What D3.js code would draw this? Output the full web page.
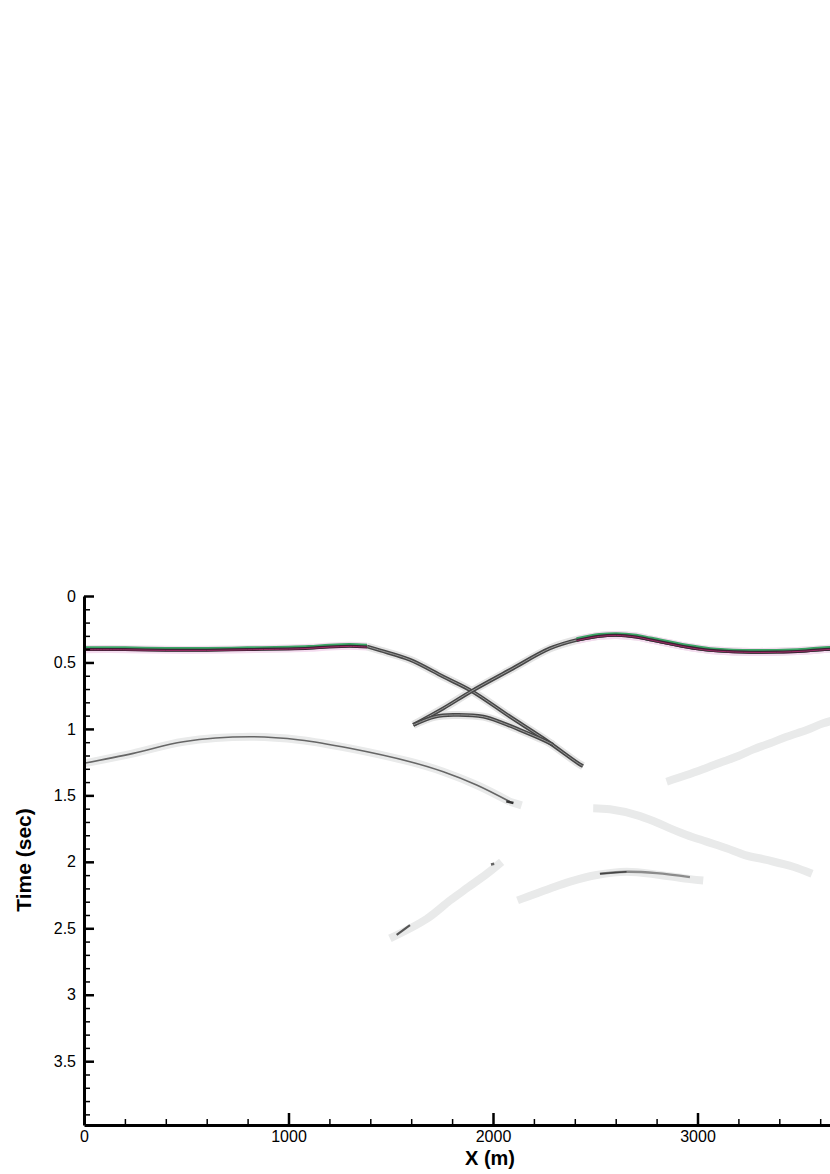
<!DOCTYPE html>
<html>
<head>
<meta charset="utf-8">
<script src="https://cdn.jsdelivr.net/npm/d3@7"></script>
<style>
  html, body { margin: 0; padding: 0; background: #fff; }
  svg { display: block; }
  text { font-family: "Liberation Sans", Arial, sans-serif; }
</style>
</head>
<body>
<svg id="chart" width="830" height="1174"></svg>
<script>
// ---------- data (x in m, time in sec) ----------
const topLeftX = [0, 200, 400, 600, 800, 1000, 1100, 1200, 1300, 1384];
const topLeftT = [0.40, 0.40, 0.405, 0.405, 0.40, 0.395, 0.39, 0.38, 0.375, 0.38];

const descX = [1384, 1450, 1594, 1757, 1896, 2083, 2246, 2417, 2440];
const descT = [0.38, 0.41, 0.48, 0.607, 0.715, 0.908, 1.071, 1.259, 1.28];

const ascX = [1610, 1757, 1896, 2083, 2279, 2409, 2520, 2605, 2700, 2768, 2947, 3061, 3224, 3387, 3530, 3648, 3750];
const ascT = [0.97, 0.845, 0.715, 0.557, 0.394, 0.331, 0.30, 0.293, 0.305, 0.326, 0.381, 0.406, 0.419, 0.419, 0.41, 0.397, 0.395];

const arcX = [1610, 1717, 1806, 1953, 2051, 2132, 2246, 2295];
const arcT = [0.97, 0.908, 0.895, 0.908, 0.958, 1.008, 1.083, 1.12];

const lowX = [0, 241, 486, 812, 1056, 1300, 1594, 1757, 1920, 2083];
const lowT = [1.259, 1.184, 1.096, 1.059, 1.083, 1.146, 1.247, 1.322, 1.422, 1.548];

const blobX = [2065, 2100];
const blobT = [1.545, 1.558];

const fadeAX = [2083, 2140];
const fadeAT = [1.548, 1.575];
const fadeBX = [2490, 2572, 2702, 2792, 2866, 2947, 3044, 3142, 3232, 3338, 3468, 3560];
const fadeBT = [1.597, 1.605, 1.648, 1.698, 1.748, 1.798, 1.848, 1.898, 1.949, 1.986, 2.037, 2.09];

const riseX = [2849, 2947, 3037, 3110, 3200, 3273, 3355, 3436, 3534, 3615, 3700];
const riseT = [1.397, 1.347, 1.297, 1.255, 1.204, 1.154, 1.108, 1.059, 1.008, 0.958, 0.92];

const leftRiseX = [1496, 1675, 1790, 1880, 1970, 2042];
const leftRiseT = [2.576, 2.43, 2.29, 2.19, 2.09, 2.0];
const leftDashX = [1529, 1594];
const leftDashT = [2.55, 2.476];
const dotX = [1990, 2006];
const dotT = [2.02, 2.015];

const deepX = [2120, 2279, 2377, 2507, 2653, 2817, 2963, 3028];
const deepT = [2.29, 2.2, 2.149, 2.099, 2.074, 2.099, 2.13, 2.14];
const deepCoreX = [2523, 2653, 2800, 2963];
const deepCoreT = [2.09, 2.075, 2.085, 2.115];

const yMajor = [0, 0.5, 1, 1.5, 2, 2.5, 3, 3.5];
const yMinor = [0.1,0.2,0.3,0.4,0.6,0.7,0.8,0.9,1.1,1.2,1.3,1.4,1.6,1.7,1.8,1.9,2.1,2.2,2.3,2.4,2.6,2.7,2.8,2.9,3.1,3.2,3.3,3.4,3.6,3.7,3.8,3.9];
const xMajor = [0, 1000, 2000, 3000];
const xMinor = [200,400,600,800,1200,1400,1600,1800,2200,2400,2600,2800,3200,3400,3600,3800];

// ---------- setup ----------
const svg = d3.select("#chart");
const x = d3.scaleLinear().domain([0, 4000]).range([84, 902]);
const y = d3.scaleLinear().domain([0, 3.98]).range([596, 1125]);

const zip = (xs, ts) => xs.map((v, i) => [v, ts[i]]);
const line = d3.line().x(d => x(d[0])).y(d => y(d[1])).curve(d3.curveCatmullRom.alpha(0.5));

const plot = svg.append("g");
function draw(pts, color, width, extra) {
  const p = plot.append("path").datum(pts)
    .attr("d", line).attr("fill", "none")
    .attr("stroke", color).attr("stroke-width", width)
    .attr("stroke-linecap", "butt").attr("stroke-linejoin", "round");
  if (extra) extra(p);
  return p;
}

const topLeft = zip(topLeftX, topLeftT);
const desc = zip(descX, descT);
const asc = zip(ascX, ascT);
const arc = zip(arcX, arcT);
const low = zip(lowX, lowT);
const ascCrest = asc.filter(d => d[0] >= 2400);

// light halos
[low, zip(fadeAX, fadeAT), zip(fadeBX, fadeBT), zip(riseX, riseT), zip(leftRiseX, leftRiseT), zip(deepX, deepT)]
  .forEach(p => draw(p, "#e9eaea", 8));
[desc, asc, arc].forEach(p => draw(p, "#e4e4e4", 8));
[topLeft, ascCrest].forEach(p => draw(p, "#f4dcef", 8));

// wavefront curves (grey double lines)
[desc, asc, arc].forEach(p => {
  draw(p, "#474747", 3.8);
  draw(p, "#9a9a9a", 1);
});
// flat parts with coloured traces
[topLeft, ascCrest].forEach(p => {
  draw(p, "#3aa565", 4.4, s => s.attr("transform", "translate(0,-0.6)"));
  draw(p, "#3a2233", 3, s => s.attr("transform", "translate(0,0.4)"));
  draw(p, "#a02a66", 1, s => s.attr("transform", "translate(0,0.6)"));
});

// lower thin reflection
draw(low, "#666", 1.6);
draw(zip(blobX, blobT), "#333", 2.5);
draw(zip(leftDashX, leftDashT), "#555", 2.2);
draw(zip(dotX, dotT), "#666", 2.5);
draw(zip(deepCoreX, deepCoreT), "#8c8c8c", 2.4);
draw(zip(deepCoreX, deepCoreT).filter(d => d[0] <= 2700), "#444", 1.4);

// ---------- axes ----------
const font = '"Liberation Sans", Arial, sans-serif';
function styleAxis(g, w) {
  g.select(".domain").attr("stroke", "#000").attr("stroke-width", 3);
  g.selectAll(".tick line").attr("stroke", "#000").attr("stroke-width", w);
  g.selectAll(".tick text").attr("fill", "#000").style("font-family", font).style("font-size", "16px");
}

const yMinorG = svg.append("g").attr("transform", "translate(84,0)")
  .call(d3.axisLeft(y).tickValues(yMinor).tickSize(-6).tickSizeOuter(0).tickFormat(""));
styleAxis(yMinorG, 1.5);
yMinorG.select(".domain").remove();
const yG = svg.append("g").attr("transform", "translate(84,0)")
  .call(d3.axisLeft(y).tickValues(yMajor).tickSize(-10).tickSizeOuter(0).tickPadding(8).tickFormat(d => String(d)));
styleAxis(yG, 2.5);

const xMinorG = svg.append("g").attr("transform", "translate(0,1125)")
  .call(d3.axisBottom(x).tickValues(xMinor).tickSize(-6).tickSizeOuter(0).tickFormat(""));
styleAxis(xMinorG, 1.5);
xMinorG.select(".domain").remove();
const xG = svg.append("g").attr("transform", "translate(0,1125)")
  .call(d3.axisBottom(x).tickValues(xMajor).tickSize(-12).tickSizeOuter(0).tickPadding(6).tickFormat(d => String(d)));
styleAxis(xG, 2.5);

// titles
svg.append("text").attr("transform", "translate(31,860) rotate(-90)")
  .attr("text-anchor", "middle").style("font-family", font).style("font-size", "21px")
  .style("font-weight", "bold").text("Time (sec)");
svg.append("text").attr("x", 490).attr("y", 1165)
  .attr("text-anchor", "middle").style("font-family", font).style("font-size", "20px")
  .style("font-weight", "bold").text("X (m)");
</script>
</body>
</html>
